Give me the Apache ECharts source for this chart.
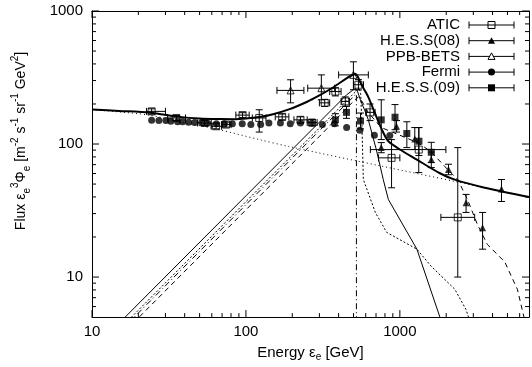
<!DOCTYPE html>
<html>
<head>
<meta charset="utf-8">
<script src="https://cdn.jsdelivr.net/npm/echarts@6/dist/echarts.min.js"></script>
<style>
  html, body { margin: 0; padding: 0; background: #fff; }
  #chart { width: 532px; height: 367px; }
</style>
</head>
<body>
<div id="chart"></div>
<script>
// axis ranges
const X_MIN = 10, X_MAX = 6900;
const Y_MIN = 5, Y_MAX = 1000;

// tick positions
const xMajor = [10, 100, 1000];
const xMinor = [20, 30, 40, 50, 60, 70, 80, 90, 200, 300, 400, 500, 600, 700, 800, 900, 2000, 3000, 4000, 5000, 6000];
const yMajor = [10, 100, 1000];
const yMinor = [6, 7, 8, 9, 20, 30, 40, 50, 60, 70, 80, 90, 200, 300, 400, 500, 600, 700, 800, 900];

// measurements: [E, flux, Elo, Ehi, fluxLo, fluxHi]  (0 = no bar)
const atic = [
  [24.4, 176, 22.6, 30.0, 168, 184],
  [35.3, 157, 31.0, 40.5, 150, 164],
  [53.8, 144, 48.5, 59.5, 138, 150],
  [64.0, 136, 59.5, 69.5, 130, 142],
  [74.3, 140, 69.5, 80, 134, 146],
  [95.1, 165, 86, 105, 158, 172],
  [122, 157, 110, 135, 123, 181],
  [172, 160, 155, 190, 152, 168],
  [226, 152, 205, 250, 144, 160],
  [269, 145, 250, 290, 137, 153],
  [325, 204, 300, 350, 192, 216],
  [381, 248, 350, 415, 230, 265],
  [442, 209, 415, 470, 192, 226],
  [538, 279, 500, 580, 255, 305],
  [640, 173, 600, 690, 150, 200],
  [883, 78.7, 727, 1000, 46.9, 108],
  [1326, 90.8, 643, 1990, 61, 133],
  [2377, 28.1, 1847, 3062, 10, 94]
];
const hess08 = [
  [757, 94, 0, 0, 86, 102.5],
  [951, 136, 0, 0, 123, 150],
  [1250, 109, 0, 0, 91, 133],
  [1600, 76.4, 0, 0, 66.5, 87],
  [2070, 64.3, 0, 0, 58.8, 70.5],
  [2692, 36.2, 0, 0, 30.6, 41.8],
  [3446, 23.5, 0, 0, 16.2, 30.6],
  [4571, 46, 0, 0, 37, 54.1]
];
const ppb = [
  [195, 253, 159, 238, 204, 304],
  [309, 263, 252, 377, 215, 331],
  [499, 331, 400, 624, 256, 415]
];
const fermi = [
  [24.4, 150.6], [27.2, 150], [30.2, 150], [32.5, 148.5], [36.0, 147], [38.8, 147],
  [42.4, 146], [46.4, 145], [51.5, 145], [56.3, 143.5], [64.3, 142], [72.4, 142],
  [81.6, 142], [94.6, 142], [107.7, 140], [124.6, 140], [141, 144], [167.5, 144],
  [194, 142], [226, 144], [269, 144], [314, 140], [376, 142], [451, 133],
  [550, 127], [683, 116.5], [860, 116]
];
const hess09 = [
  [381, 152, 0, 0, 137, 169],
  [450, 173, 0, 0, 156, 192],
  [555, 149, 0, 0, 130, 171],
  [757, 152, 0, 0, 108, 215],
  [930, 159, 0, 0, 128, 198],
  [1110, 120, 0, 0, 94, 147],
  [1330, 105, 0, 0, 82, 133],
  [1600, 86.7, 0, 0, 72.5, 103]
];

// model curves: [E, flux]
const background = [
  [10, 181], [22.7, 166], [37.1, 147], [67.3, 128], [122, 108], [190, 95.8],
  [780, 67.8], [2274, 52.4], [6900, 40]
];
const total = [
  [10, 182], [15, 177.5], [23.8, 172], [37.1, 160], [50, 155.5], [67.3, 154],
  [85, 153.7], [100, 155.4], [122, 159.4], [150, 167.6], [190, 182], [250, 208],
  [300, 232], [350, 257], [400, 284], [450, 312], [490, 329], [513, 338],
  [530, 325], [554, 290], [590, 254], [624, 225], [703, 161], [780, 122],
  [842, 105], [1000, 91], [1290, 76.3], [1820, 60.3], [2274, 54], [3500, 47.2], [6900, 40]
];
const sourceSolid = [
  [15, 4.5], [100, 40.8], [300, 146], [450, 234], [490, 252], [513, 262],
  [530, 250], [554, 215], [590, 180], [624, 152], [703, 90.8], [780, 54.1],
  [842, 38.3], [1290, 16.2], [1820, 5], [2040, 3.4]
];
const sourceDotted = [
  [16.5, 4.5], [100, 36.9], [300, 132], [500, 239], [545, 262], [556, 240],
  [566, 150], [579, 54.1], [693, 30.6], [820, 21.7], [1290, 16.2], [1592, 12.1],
  [2274, 8.1], [2690, 5.7], [2841, 4.7]
];
const sourceDashDot = [
  [17.2, 4.5], [100, 35], [300, 126], [522, 238.6], [522, 4.5]
];
const sourceDashed = [
  [18.5, 4.5], [100, 32], [300, 114], [500, 210], [538, 226], [560, 215],
  [624, 172], [757, 133], [973, 118], [1313, 102], [1592, 87.7], [2045, 64.3],
  [2377, 54.1], [2750, 38.3], [3191, 24.8], [3700, 17.6], [4800, 13], [5800, 8.1],
  [6400, 5], [6700, 4.5]
];

// legend rows
const legendNames = ['ATIC', 'H.E.S.S(08)', 'PPB-BETS', 'Fermi', 'H.E.S.S.(09)'];
const legendMarks = ['openRect', 'tri', 'openTri', 'circle', 'rect'];

const FONT = 'Liberation Sans';

function seg(x1, y1, x2, y2, w) {
  return { type: 'line', shape: { x1, y1, x2, y2 }, style: { stroke: '#000', lineWidth: w || 1 } };
}

function renderErr(params, api) {
  const e = api.value(0), f = api.value(1);
  const kids = [];
  const cap = 3.5;
  const fl = api.value(4), fh = api.value(5);
  if (fl > 0 && fh > 0) {
    const a = api.coord([e, fl]), b = api.coord([e, fh]);
    kids.push(seg(a[0], a[1], b[0], b[1]));
    kids.push(seg(a[0] - cap, a[1], a[0] + cap, a[1]));
    kids.push(seg(b[0] - cap, b[1], b[0] + cap, b[1]));
  }
  const el = api.value(2), eh = api.value(3);
  if (el > 0 && eh > 0) {
    const a = api.coord([el, f]), b = api.coord([eh, f]);
    kids.push(seg(a[0], a[1], b[0], b[1]));
    kids.push(seg(a[0], a[1] - cap, a[0], a[1] + cap));
    kids.push(seg(b[0], b[1] - cap, b[0], b[1] + cap));
  }
  return { type: 'group', children: kids };
}

function renderXTick(params, api) {
  const v = api.value(0), len = api.value(2);
  const b = api.coord([v, Y_MIN]), t = api.coord([v, Y_MAX]);
  return { type: 'group', children: [seg(b[0], b[1], b[0], b[1] - len), seg(t[0], t[1], t[0], t[1] + len)] };
}

function renderYTick(params, api) {
  const v = api.value(1), len = api.value(2);
  const l = api.coord([X_MIN, v]), r = api.coord([X_MAX, v]);
  return { type: 'group', children: [seg(l[0], l[1], l[0] + len, l[1]), seg(r[0], r[1], r[0] - len, r[1])] };
}

function errSeries(data) {
  return { type: 'custom', data, renderItem: renderErr, encode: { x: 0, y: 1 }, z: 3, silent: true };
}

function markSeries(data, symbol, size, open) {
  return {
    type: 'scatter', data: data.map(d => [d[0], d[1]]), symbol, symbolSize: size, z: 4, silent: true,
    itemStyle: open ? { color: 'rgba(0,0,0,0)', borderColor: '#000', borderWidth: 1 } : { color: '#000' }
  };
}

function curve(data, width, type, smooth) {
  return {
    type: 'line', data, showSymbol: false, symbol: 'none', smooth: smooth || false, z: 2, silent: true,
    lineStyle: { color: '#000', width, type }
  };
}

function powLabel(v) {
  const l = Math.log10(v);
  return Math.abs(l - Math.round(l)) < 1e-6 ? String(Math.round(v)) : '';
}

// hand-built key: text, bar with caps, marker
const keyRight = 460, barL = 469, barR = 514, rowY0 = 25, rowStep = 15.7;
const legendGraphics = [];
legendNames.forEach((name, i) => {
  const y = rowY0 + i * rowStep;
  const mx = (barL + barR) / 2;
  legendGraphics.push({ type: 'text', x: keyRight, y, style: { text: name, font: '15px ' + FONT, fill: '#000', align: 'right', verticalAlign: 'middle' } });
  legendGraphics.push(seg(barL, y, barR, y), seg(barL, y - 3.5, barL, y + 3.5), seg(barR, y - 3.5, barR, y + 3.5));
  const m = legendMarks[i];
  if (m === 'openRect') legendGraphics.push({ type: 'rect', shape: { x: mx - 3.5, y: y - 3.5, width: 7, height: 7 }, style: { fill: 'none', stroke: '#000', lineWidth: 1 } });
  if (m === 'rect') legendGraphics.push({ type: 'rect', shape: { x: mx - 3.5, y: y - 3.5, width: 7, height: 7 }, style: { fill: '#000' } });
  if (m === 'circle') legendGraphics.push({ type: 'circle', shape: { cx: mx, cy: y, r: 3.5 }, style: { fill: '#000' } });
  if (m === 'tri') legendGraphics.push({ type: 'polygon', shape: { points: [[mx, y - 3.5], [mx + 3.5, y + 3], [mx - 3.5, y + 3]] }, style: { fill: '#000' } });
  if (m === 'openTri') legendGraphics.push({ type: 'polygon', shape: { points: [[mx, y - 3.5], [mx + 3.5, y + 3], [mx - 3.5, y + 3]] }, style: { fill: '#fff', stroke: '#000', lineWidth: 1 } });
});

const chart = echarts.init(document.getElementById('chart'));

const axisCommon = {
  type: 'log', logBase: 10,
  axisLine: { show: true, onZero: false, lineStyle: { color: '#000', width: 1 } },
  axisTick: { show: false },
  splitLine: { show: false },
  minorTick: { show: false },
  minorSplitLine: { show: false }
};

chart.setOption({
  animation: false,
  backgroundColor: '#fff',
  grid: { left: 92, top: 11, width: 440, height: 307 },
  xAxis: [
    Object.assign({}, axisCommon, {
      min: X_MIN, max: X_MAX, position: 'bottom',
      axisLabel: { formatter: powLabel, color: '#000', fontFamily: FONT, fontSize: 15, margin: 7 },
      name: 'Energy ε{s|e} [GeV]', nameLocation: 'middle', nameGap: 12,
      nameTextStyle: { color: '#000', fontFamily: FONT, fontSize: 15, lineHeight: 18, rich: { s: { fontSize: 10, fontFamily: FONT, verticalAlign: 'bottom', lineHeight: 10 } } }
    }),
    Object.assign({}, axisCommon, { min: X_MIN, max: X_MAX, position: 'top', axisLabel: { show: false } })
  ],
  yAxis: [
    Object.assign({}, axisCommon, {
      min: Y_MIN, max: Y_MAX, position: 'left',
      axisLabel: { formatter: powLabel, color: '#000', fontFamily: FONT, fontSize: 15, margin: 9 }
    }),
    Object.assign({}, axisCommon, { min: Y_MIN, max: Y_MAX, position: 'right', axisLabel: { show: false } })
  ],
  graphic: [
    {
      type: 'text', x: 21, y: 141, rotation: Math.PI / 2,
      style: {
        text: 'Flux ε{s|e}{p|3}Φ{s|e} [m{p|-2} s{p|-1} sr{p|-1} GeV{p|2}]',
        font: '14px ' + FONT, fill: '#000', align: 'center', verticalAlign: 'middle', lineHeight: 22,
        rich: {
          s: { fontSize: 10, fontFamily: FONT, verticalAlign: 'bottom', lineHeight: 10 },
          p: { fontSize: 10, fontFamily: FONT, verticalAlign: 'top', lineHeight: 10 }
        }
      }
    }
  ].concat(legendGraphics),
  series: [
    curve(background, 1, [1, 3], 0.3),
    curve(sourceSolid, 1, 'solid'),
    curve(sourceDashed, 1, [5, 4]),
    curve(sourceDotted, 1, [2, 2]),
    curve(sourceDashDot, 1, [6, 3, 1, 3]),
    curve(total, 2, 'solid', 0.3),
    { type: 'custom', data: xMajor.map(v => [v, Y_MIN, 7]).concat(xMinor.map(v => [v, Y_MIN, 4])), renderItem: renderXTick, encode: { x: 0, y: 1 }, z: 5, silent: true, clip: false },
    { type: 'custom', data: yMajor.map(v => [X_MIN, v, 7]).concat(yMinor.map(v => [X_MIN, v, 4])), renderItem: renderYTick, encode: { x: 0, y: 1 }, z: 5, silent: true, clip: false },
    errSeries(atic), markSeries(atic, 'rect', 7, true),
    errSeries(hess08), markSeries(hess08, 'triangle', 7, false),
    errSeries(ppb), markSeries(ppb, 'triangle', 7, true),
    markSeries(fermi, 'circle', 7, false),
    errSeries(hess09), markSeries(hess09, 'rect', 7, false)
  ]
});
</script>
</body>
</html>
